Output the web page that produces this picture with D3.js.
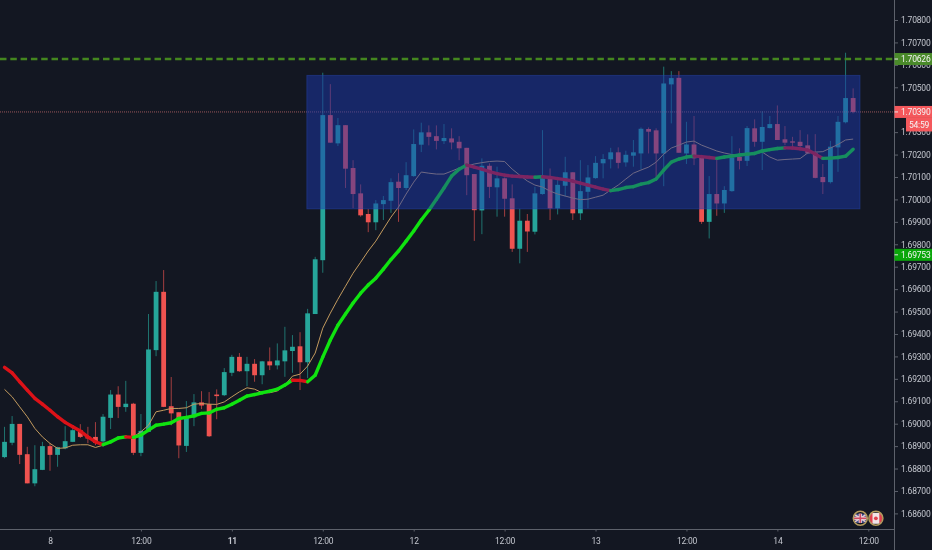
<!DOCTYPE html>
<html>
<head>
<meta charset="utf-8">
<title>GBPCAD 1h</title>
<script src="https://cdnjs.cloudflare.com/ajax/libs/d3/7.8.5/d3.min.js"></script>
<style>
	html, body { margin: 0; padding: 0; background: #131722; overflow: hidden; }
	svg { display: block; filter: blur(0.45px); }
	text { font-family: Roboto, "Noto Sans", sans-serif; }
</style>
</head>
<body>
<div id="chart"></div>
<script>
// candles, one per hour, first one is 6 hours before the "8" tick
var opens = [1.68851,1.68915,1.68999,1.68864,1.68734,1.68794,1.68900,1.68861,1.68890,1.68919,1.68971,1.68944,1.68941,1.68921,1.69026,1.69130,1.69074,1.69089,1.68870,1.68964,1.69328,1.69588,1.69078,1.69051,1.68901,1.69028,1.69095,1.69087,1.69130,1.69127,1.69227,1.69298,1.69234,1.69267,1.69216,1.69278,1.69260,1.69278,1.69324,1.69345,1.69274,1.69489,1.69729,1.70376,1.70250,1.70331,1.70140,1.70027,1.69935,1.69898,1.69979,1.69994,1.70079,1.70051,1.70104,1.70244,1.70299,1.70282,1.70260,1.70272,1.70257,1.70230,1.70113,1.69951,1.70150,1.70054,1.70094,1.70005,1.69780,1.69905,1.69856,1.70024,1.70091,1.69960,1.70061,1.70121,1.69938,1.70034,1.70095,1.70161,1.70179,1.70210,1.70165,1.70195,1.70205,1.70314,1.70308,1.70205,1.70513,1.70542,1.70205,1.70245,1.70190,1.69900,1.70024,1.69982,1.70037,1.70190,1.70172,1.70317,1.70257,1.70318,1.70336,1.70268,1.70259,1.70257,1.70241,1.70208,1.70100,1.70077,1.70232,1.70344,1.70452];
var highs = [1.68986,1.69034,1.68999,1.68897,1.68904,1.68919,1.68913,1.68897,1.68989,1.68980,1.68998,1.68986,1.69007,1.69043,1.69150,1.69167,1.69191,1.69093,1.69043,1.69489,1.69636,1.69685,1.69208,1.69051,1.69101,1.69132,1.69145,1.69141,1.69153,1.69248,1.69307,1.69315,1.69298,1.69288,1.69280,1.69340,1.69358,1.69432,1.69395,1.69408,1.69512,1.69744,1.70565,1.70514,1.70363,1.70331,1.70175,1.70067,1.69957,1.69997,1.70015,1.70094,1.70117,1.70166,1.70312,1.70342,1.70330,1.70330,1.70336,1.70317,1.70282,1.70230,1.70113,1.70183,1.70161,1.70146,1.70098,1.70067,1.69958,1.69935,1.70056,1.70309,1.70138,1.70086,1.70190,1.70121,1.70175,1.70153,1.70193,1.70202,1.70230,1.70232,1.70217,1.70265,1.70321,1.70321,1.70317,1.70592,1.70572,1.70572,1.70346,1.70372,1.70193,1.70104,1.70179,1.70059,1.70282,1.70228,1.70327,1.70357,1.70393,1.70372,1.70419,1.70327,1.70279,1.70309,1.70290,1.70291,1.70158,1.70261,1.70372,1.70654,1.70495];
var lows = [1.68846,1.68904,1.68820,1.68734,1.68721,1.68793,1.68790,1.68808,1.68886,1.68918,1.68936,1.68913,1.68904,1.68897,1.68976,1.69025,1.69053,1.68860,1.68855,1.68962,1.69301,1.69074,1.68993,1.68846,1.68874,1.68989,1.69065,1.68941,1.69020,1.69123,1.69212,1.69231,1.69167,1.69187,1.69176,1.69239,1.69242,1.69209,1.69227,1.69150,1.69203,1.69489,1.69673,1.70253,1.70238,1.70051,1.69961,1.69923,1.69854,1.69863,1.69908,1.69940,1.69900,1.70042,1.70101,1.70211,1.70241,1.70223,1.70247,1.70223,1.70175,1.70019,1.69815,1.69845,1.70006,1.69923,1.69923,1.69766,1.69715,1.69766,1.69844,1.70021,1.69908,1.69933,1.70012,1.69908,1.69908,1.69960,1.70092,1.70094,1.70138,1.70138,1.70146,1.70146,1.70134,1.70205,1.70098,1.70059,1.70339,1.70208,1.70158,1.70153,1.69891,1.69826,1.69927,1.69940,1.70034,1.70134,1.70149,1.70235,1.70131,1.70317,1.70265,1.70242,1.70232,1.70220,1.70202,1.70094,1.70024,1.70071,1.70123,1.70339,1.70384];
var closes = [1.68919,1.68999,1.68861,1.68734,1.68797,1.68900,1.68861,1.68895,1.68922,1.68971,1.68941,1.68934,1.68915,1.69031,1.69130,1.69075,1.69089,1.68870,1.68968,1.69331,1.69588,1.69075,1.69046,1.68903,1.69028,1.69095,1.69081,1.68944,1.69123,1.69230,1.69298,1.69234,1.69267,1.69216,1.69278,1.69260,1.69282,1.69327,1.69343,1.69274,1.69492,1.69733,1.70376,1.70253,1.70331,1.70137,1.70024,1.69929,1.69898,1.69982,1.69997,1.70077,1.70051,1.70108,1.70247,1.70299,1.70279,1.70261,1.70274,1.70254,1.70228,1.70108,1.69952,1.70150,1.70056,1.70094,1.70003,1.69780,1.69905,1.69857,1.70027,1.70094,1.69960,1.70065,1.70121,1.69938,1.70037,1.70098,1.70163,1.70180,1.70210,1.70163,1.70199,1.70210,1.70315,1.70302,1.70205,1.70517,1.70541,1.70208,1.70245,1.70183,1.69900,1.70024,1.69982,1.70042,1.70187,1.70172,1.70318,1.70257,1.70323,1.70336,1.70265,1.70253,1.70253,1.70238,1.70205,1.70096,1.70077,1.70235,1.70346,1.70452,1.70390];

// the two moving averages, same length as the candles
var maFast = [1.69153,1.69120,1.69075,1.69031,1.68979,1.68941,1.68912,1.68890,1.68892,1.68904,1.68906,1.68906,1.68894,1.68904,1.68922,1.68939,1.68941,1.68941,1.68964,1.68993,1.69053,1.69060,1.69068,1.69068,1.69071,1.69087,1.69090,1.69087,1.69086,1.69097,1.69120,1.69142,1.69160,1.69154,1.69138,1.69138,1.69146,1.69172,1.69212,1.69221,1.69257,1.69315,1.69426,1.69493,1.69555,1.69613,1.69671,1.69720,1.69770,1.69814,1.69868,1.69921,1.69966,1.70024,1.70077,1.70122,1.70117,1.70113,1.70113,1.70126,1.70140,1.70149,1.70158,1.70164,1.70169,1.70171,1.70169,1.70135,1.70108,1.70082,1.70064,1.70055,1.70037,1.70024,1.70015,1.70006,1.69999,1.70001,1.70010,1.70019,1.70042,1.70064,1.70091,1.70117,1.70131,1.70144,1.70166,1.70202,1.70229,1.70242,1.70256,1.70260,1.70242,1.70229,1.70216,1.70207,1.70200,1.70198,1.70198,1.70202,1.70211,1.70189,1.70175,1.70178,1.70180,1.70182,1.70207,1.70211,1.70213,1.70229,1.70245,1.70265,1.70269];
var maSlow = [1.69251,1.69227,1.69187,1.69150,1.69113,1.69087,1.69060,1.69031,1.69006,1.68986,1.68967,1.68941,1.68919,1.68907,1.68919,1.68936,1.68941,1.68939,1.68949,1.68971,1.68993,1.68998,1.69004,1.69023,1.69028,1.69035,1.69046,1.69048,1.69064,1.69071,1.69087,1.69105,1.69123,1.69130,1.69138,1.69145,1.69154,1.69172,1.69194,1.69193,1.69187,1.69216,1.69297,1.69373,1.69439,1.69489,1.69538,1.69582,1.69618,1.69649,1.69689,1.69732,1.69770,1.69814,1.69859,1.69908,1.69952,1.70001,1.70051,1.70104,1.70135,1.70153,1.70144,1.70135,1.70124,1.70115,1.70108,1.70104,1.70102,1.70100,1.70099,1.70101,1.70098,1.70093,1.70088,1.70082,1.70073,1.70064,1.70055,1.70046,1.70039,1.70044,1.70053,1.70057,1.70068,1.70075,1.70091,1.70131,1.70166,1.70180,1.70189,1.70193,1.70191,1.70187,1.70183,1.70189,1.70193,1.70198,1.70202,1.70205,1.70216,1.70222,1.70227,1.70230,1.70229,1.70226,1.70220,1.70202,1.70183,1.70184,1.70187,1.70193,1.70224];

// 1.70400 is left out, the last price tag sits right on it
var priceTicks = [1.68600,1.68700,1.68800,1.68900,1.69000,1.69100,1.69200,1.69300,1.69400,1.69500,1.69600,1.69700,1.69800,1.69900,1.70000,1.70100,1.70200,1.70300,1.70500,1.70600,1.70700,1.70800];
var timeTickHours = [0,12,24,36,48,60,72,84,96,108];
var timeTickLabels = ["8","12:00","11","12:00","12","12:00","13","12:00","14","12:00"];
var boldTimeLabels = ["11"];

// range box and the horizontal levels
var boxTop = 1.70553, boxBottom = 1.69958;
var boxStartHour = 33.9, boxEndHour = 106.9;
var levelDashed = 1.70626, levelLast = 1.70390, levelBid = 1.69753;
var countdown = "54:59";

var width = 932, height = 550;
var axisX = 894.5, axisY = 529.5;

var x = d3.scaleLinear().domain([0, 108]).range([50, 868.3]);
var y = d3.scaleLinear().domain([1.68600, 1.70800]).range([513.4, 20]);

var svg = d3.select("#chart").append("svg")
	.attr("width", width)
	.attr("height", height);

svg.append("rect")
	.attr("width", width)
	.attr("height", height)
	.attr("fill", "#131722");

var candles = d3.range(opens.length).map(function(i) {
	return {hour: i - 6, open: opens[i], high: highs[i], low: lows[i], close: closes[i]};
});

var upColor = "#26a69a", downColor = "#ef5350";
var bodyWidth = 4.8;

function candleColor(d) {
	return d.close >= d.open ? upColor : downColor;
}

var candle = svg.append("g").selectAll("g")
	.data(candles)
	.enter()
	.append("g");

candle.append("line")
	.attr("x1", function(d) { return x(d.hour); })
	.attr("x2", function(d) { return x(d.hour); })
	.attr("y1", function(d) { return y(d.high); })
	.attr("y2", function(d) { return y(d.low); })
	.attr("stroke", candleColor)
	.attr("stroke-opacity", 0.65)
	.attr("stroke-width", 1);

candle.append("rect")
	.attr("x", function(d) { return x(d.hour) - bodyWidth / 2; })
	.attr("width", bodyWidth)
	.attr("y", function(d) { return y(Math.max(d.open, d.close)); })
	.attr("height", function(d) { return Math.max(1, Math.abs(y(d.open) - y(d.close))); })
	.attr("fill", candleColor);

// thin average
var fastLine = d3.line()
	.x(function(d, i) { return x(i - 6); })
	.y(function(d) { return y(d); });

svg.append("path")
	.attr("d", fastLine(maFast))
	.attr("fill", "none")
	.attr("stroke", "#c29a5e")
	.attr("stroke-width", 1);

// thick average, green while rising and red while falling
var slowSegments = d3.pairs(maSlow).map(function(p, i) {
	return {x0: i - 6, x1: i - 5, y0: p[0], y1: p[1]};
});

svg.append("g").selectAll("line")
	.data(slowSegments)
	.enter()
	.append("line")
	.attr("x1", function(d) { return x(d.x0); })
	.attr("x2", function(d) { return x(d.x1); })
	.attr("y1", function(d) { return y(d.y0); })
	.attr("y2", function(d) { return y(d.y1); })
	.attr("stroke", function(d) { return d.y1 > d.y0 ? "#10e410" : "#dc1218"; })
	.attr("stroke-width", 3.4)
	.attr("stroke-linecap", "round");

// last price line sits under the box, the dashed one above it
svg.append("line")
	.attr("x1", 0).attr("x2", axisX)
	.attr("y1", y(levelLast)).attr("y2", y(levelLast))
	.attr("stroke", "#f08080")
	.attr("stroke-opacity", 0.6)
	.attr("stroke-width", 1)
	.attr("stroke-dasharray", "1 1");

// box goes over the candles
svg.append("rect")
	.attr("x", x(boxStartHour))
	.attr("y", y(boxTop))
	.attr("width", x(boxEndHour) - x(boxStartHour))
	.attr("height", y(boxBottom) - y(boxTop))
	.attr("fill", "rgba(27,55,172,0.5)")
	.attr("stroke", "rgba(40,70,180,0.45)")
	.attr("stroke-width", 1);

svg.append("line")
	.attr("x1", 0).attr("x2", axisX)
	.attr("y1", y(levelDashed)).attr("y2", y(levelDashed))
	.attr("stroke", "#44861f")
	.attr("stroke-width", 2.6)
	.attr("stroke-dasharray", "6.5 3.8");

// axes
var axisColor = "#5d616b", labelColor = "#c3c6ce";
var yAxis = d3.axisRight(y)
	.tickValues(priceTicks)
	.tickFormat(d3.format(".5f"))
	.tickSize(3.5)
	.tickPadding(3);
var xAxis = d3.axisBottom(x)
	.tickValues(timeTickHours)
	.tickFormat(function(d, i) { return timeTickLabels[i]; })
	.tickSize(2)
	.tickPadding(6);

var yAxisG = svg.append("g")
	.attr("transform", "translate(" + axisX + ",0)")
	.call(yAxis);
var xAxisG = svg.append("g")
	.attr("transform", "translate(0," + axisY + ")")
	.call(xAxis);

[yAxisG, xAxisG].forEach(function(g) {
	g.select(".domain").remove();
	g.selectAll("line").attr("stroke", axisColor);
	g.selectAll("text")
		.attr("fill", labelColor)
		.attr("font-family", "Roboto, sans-serif")
		.attr("font-size", 8.5)
		.attr("letter-spacing", -0.2);
});
xAxisG.selectAll("text")
	.attr("font-weight", function(d, i) {
		return boldTimeLabels.indexOf(timeTickLabels[i]) > -1 ? 700 : 400;
	});

svg.append("line")
	.attr("x1", axisX).attr("x2", axisX)
	.attr("y1", 0).attr("y2", height)
	.attr("stroke", axisColor);
svg.append("line")
	.attr("x1", 0).attr("x2", axisX)
	.attr("y1", axisY).attr("y2", axisY)
	.attr("stroke", axisColor);

// price tags on the right
var priceTags = [
	{value: levelDashed, fill: "#4a8a2a"},
	{value: levelBid, fill: "#0aa60a"},
	{value: levelLast, fill: "#f4585c"}
];
var tagHeight = 12;

var tag = svg.append("g").selectAll("g")
	.data(priceTags)
	.enter()
	.append("g");

tag.append("rect")
	.attr("x", axisX)
	.attr("y", function(d) { return y(d.value) - tagHeight / 2; })
	.attr("width", width - axisX)
	.attr("height", tagHeight)
	.attr("fill", function(d) { return d.fill; });

tag.append("line")
	.attr("x1", axisX).attr("x2", axisX + 3.5)
	.attr("y1", function(d) { return y(d.value); })
	.attr("y2", function(d) { return y(d.value); })
	.attr("stroke", "#e8e8e8");

tag.append("text")
	.attr("x", axisX + 6.5)
	.attr("y", function(d) { return y(d.value); })
	.attr("dy", "0.34em")
	.attr("fill", "#f4f4f4")
	.attr("font-size", 8.5)
	.attr("letter-spacing", -0.2)
	.text(function(d) { return d3.format(".5f")(d.value); });

svg.append("rect")
	.attr("x", 906)
	.attr("y", y(levelLast) + tagHeight / 2)
	.attr("width", width - 906)
	.attr("height", 13.5)
	.attr("fill", "#f4585c");
svg.append("text")
	.attr("x", 919)
	.attr("y", y(levelLast) + tagHeight / 2 + 6.75)
	.attr("dy", "0.34em")
	.attr("text-anchor", "middle")
	.attr("fill", "#f4f4f4")
	.attr("font-size", 8.5)
	.attr("letter-spacing", -0.2)
	.text(countdown);

// currency events, uk and canada flags
var defs = svg.append("defs");
function flagBadge(cx, cy, drawFlag, id) {
	defs.append("clipPath").attr("id", id)
		.append("circle").attr("cx", cx).attr("cy", cy).attr("r", 6.4);
	var g = svg.append("g");
	g.append("circle").attr("cx", cx).attr("cy", cy).attr("r", 7).attr("fill", "#131722");
	var inner = g.append("g").attr("clip-path", "url(#" + id + ")");
	drawFlag(inner, cx, cy);
	g.append("circle")
		.attr("cx", cx).attr("cy", cy).attr("r", 7)
		.attr("fill", "none")
		.attr("stroke", "#b59c5e")
		.attr("stroke-width", 1.5);
}

flagBadge(860.3, 518.3, function(g, cx, cy) {
	g.append("rect").attr("x", cx - 7).attr("y", cy - 4.6).attr("width", 14).attr("height", 9.2).attr("fill", "#3c4a84");
	[[-7, -4.6, 7, 4.6], [-7, 4.6, 7, -4.6]].forEach(function(s) {
		g.append("line").attr("x1", cx + s[0]).attr("y1", cy + s[1]).attr("x2", cx + s[2]).attr("y2", cy + s[3])
			.attr("stroke", "#e6c9d2").attr("stroke-width", 1.5);
	});
	g.append("rect").attr("x", cx - 7).attr("y", cy - 1.6).attr("width", 14).attr("height", 3.2).attr("fill", "#eddde2");
	g.append("rect").attr("x", cx - 1.6).attr("y", cy - 4.6).attr("width", 3.2).attr("height", 9.2).attr("fill", "#eddde2");
	g.append("rect").attr("x", cx - 7).attr("y", cy - 0.8).attr("width", 14).attr("height", 1.6).attr("fill", "#d04a60");
	g.append("rect").attr("x", cx - 0.8).attr("y", cy - 4.6).attr("width", 1.6).attr("height", 9.2).attr("fill", "#d04a60");
}, "flag-uk");

flagBadge(875.9, 518.3, function(g, cx, cy) {
	g.append("rect").attr("x", cx - 5.5).attr("y", cy - 5.5).attr("width", 11).attr("height", 11).attr("fill", "#f2e4e6");
	g.append("rect").attr("x", cx - 7).attr("y", cy - 7).attr("width", 3.6).attr("height", 14).attr("fill", "#e0424e");
	g.append("rect").attr("x", cx + 3.4).attr("y", cy - 7).attr("width", 3.6).attr("height", 14).attr("fill", "#e0424e");
	g.append("circle").attr("cx", cx).attr("cy", cy).attr("r", 1.9).attr("fill", "#e0424e");
}, "flag-ca");
</script>
</body>
</html>
